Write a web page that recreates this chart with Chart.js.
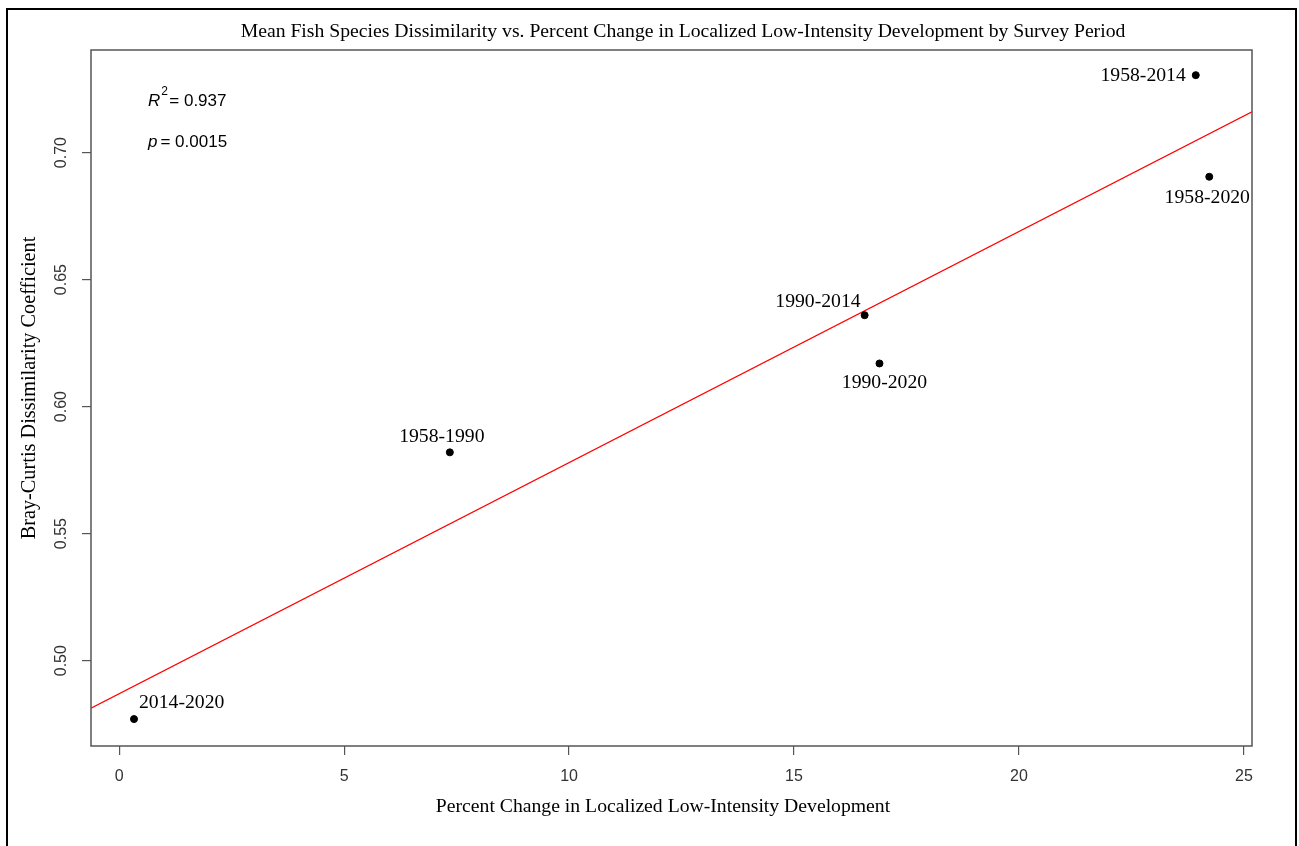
<!DOCTYPE html>
<html lang="en">
<head>
  <meta charset="UTF-8" />
  <title>Fish Species Dissimilarity</title>
  <script src="https://cdn.jsdelivr.net/npm/chart.js"></script>
  <style>
    html, body { margin: 0; padding: 0; background: #fff; }
    .wrap { position: relative; width: 1299px; height: 846px; overflow: hidden; }
    #chart { position: absolute; left: 0; top: 0; }
    /* black frame round the figure (bottom edge is cut off) */
    .frame {
      position: absolute; left: 6px; top: 8px; width: 1291px; height: 900px;
      border: 2px solid #000; box-sizing: border-box;
    }
  </style>
</head>
<body>
  <div class="wrap">
    <canvas id="chart" width="1299" height="846"></canvas>
    <div class="frame"></div>
  </div>

  <script>
    // survey periods and values
    const periods = ["2014-2020", "1958-1990", "1990-2014", "1990-2020", "1958-2014", "1958-2020"];
    const pctChange = [0.33, 7.35, 16.57, 16.90, 23.93, 24.23];
    const brayCurtis = [0.477, 0.582, 0.636, 0.617, 0.7305, 0.6905];

    // fitted line, read where it meets the plot edges
    const fitX = [-0.626, 25.18];
    const fitY = [0.4813, 0.7161];

    const xTicks = [0, 5, 10, 15, 20, 25];
    const yTicks = [0.50, 0.55, 0.60, 0.65, 0.70];
    const yTickLabels = ["0.50", "0.55", "0.60", "0.65", "0.70"];

    const titleText = "Mean Fish Species Dissimilarity vs. Percent Change in Localized Low-Intensity Development by Survey Period";
    const xTitle = "Percent Change in Localized Low-Intensity Development";
    const yTitle = "Bray-Curtis Dissimilarity Coefficient";

    // where each period label sits relative to its point: [dx, dy, align]
    const labelPlace = [
      [5, -16, "left"],
      [-8, -16, "center"],
      [-4, -13, "right"],
      [5, 19, "center"],
      [-10, 1, "right"],
      [-2, 21, "center"]
    ];

    const SERIF = "19.7px 'Liberation Serif', 'Times New Roman', serif";
    const SANS = "17px 'Liberation Sans', Arial, sans-serif";
    const AXIS_GREY = "#555";

    const extras = {
      id: "extras",
      afterDraw(chart) {
        const ctx = chart.ctx;
        const a = chart.chartArea;
        const xs = chart.scales.x, ys = chart.scales.y;
        ctx.save();

        // box round the plot
        ctx.strokeStyle = AXIS_GREY;
        ctx.lineWidth = 1.5;
        ctx.strokeRect(a.left, a.top, a.right - a.left, a.bottom - a.top);

        // rotated y tick labels
        ctx.fillStyle = "#333";
        ctx.font = "16px 'Liberation Sans', Arial, sans-serif";
        ctx.textAlign = "center";
        ctx.textBaseline = "middle";
        yTicks.forEach((v, i) => {
          const py = ys.getPixelForValue(v);
          ctx.save();
          ctx.translate(62, py);
          ctx.rotate(-Math.PI / 2);
          ctx.fillText(yTickLabels[i], 0, 0);
          ctx.restore();
        });

        // titles
        ctx.fillStyle = "#000";
        ctx.font = SERIF;
        ctx.fillText(titleText, 683, 32);
        ctx.fillText(xTitle, 663, 807);
        ctx.save();
        ctx.translate(30, (a.top + a.bottom) / 2 - 10);
        ctx.rotate(-Math.PI / 2);
        ctx.font = "20.3px 'Liberation Serif', 'Times New Roman', serif";
        ctx.fillText(yTitle, 0, 0);
        ctx.restore();

        // period labels next to points
        periods.forEach((p, i) => {
          const px = xs.getPixelForValue(pctChange[i]);
          const py = ys.getPixelForValue(brayCurtis[i]);
          const [dx, dy, al] = labelPlace[i];
          ctx.textAlign = al;
          ctx.fillText(p, px + dx, py + dy);
        });

        // R^2 and p annotations
        ctx.textAlign = "left";
        ctx.font = "italic " + SANS;
        ctx.fillText("R", 148, 101);
        let w = ctx.measureText("R").width;
        ctx.font = "12px 'Liberation Sans', Arial, sans-serif";
        ctx.fillText("2", 148 + w + 1, 92);
        ctx.font = SANS;
        ctx.fillText("= 0.937", 148 + w + 9, 101);

        ctx.font = "italic " + SANS;
        ctx.fillText("p", 148, 142);
        w = ctx.measureText("p").width;
        ctx.font = SANS;
        ctx.fillText("= 0.0015", 148 + w + 3, 142);

        ctx.restore();
      }
    };

    const ctx = document.getElementById("chart").getContext("2d");
    new Chart(ctx, {
      type: "scatter",
      data: {
        datasets: [
          {
            label: "Fit",
            data: fitX.map((x, i) => ({ x: x, y: fitY[i] })),
            showLine: true,
            borderColor: "#ff0000",
            borderWidth: 1.2,
            pointRadius: 0,
            order: 2
          },
          {
            label: "Survey periods",
            data: pctChange.map((x, i) => ({ x: x, y: brayCurtis[i] })),
            backgroundColor: "#000",
            borderColor: "#000",
            pointRadius: 3.5,
            order: 1
          }
        ]
      },
      options: {
        responsive: false,
        animation: false,
        devicePixelRatio: 1,
        layout: { padding: { left: 0, top: 50, right: 47, bottom: 0 } },
        plugins: {
          legend: { display: false },
          tooltip: { enabled: false },
          title: { display: false }
        },
        scales: {
          x: {
            type: "linear",
            min: -0.626,
            max: 25.18,
            afterBuildTicks: (s) => { s.ticks = xTicks.map(v => ({ value: v })); },
            afterFit: (s) => { s.height = 100; },
            grid: {
              drawOnChartArea: false,
              drawTicks: true,
              tickLength: 9,
              color: AXIS_GREY,
              lineWidth: 1.2
            },
            border: { display: false },
            ticks: {
              color: "#333",
              font: { family: "'Liberation Sans', Arial, sans-serif", size: 16 },
              padding: 12,
              maxRotation: 0,
              autoSkip: false
            }
          },
          y: {
            type: "linear",
            min: 0.4664,
            max: 0.7404,
            afterBuildTicks: (s) => { s.ticks = yTicks.map(v => ({ value: v })); },
            afterFit: (s) => { s.width = 91; },
            grid: {
              drawOnChartArea: false,
              drawTicks: true,
              tickLength: 9,
              color: AXIS_GREY,
              lineWidth: 1.2
            },
            border: { display: false },
            ticks: { display: false }
          }
        }
      },
      plugins: [extras]
    });
  </script>
</body>
</html>
